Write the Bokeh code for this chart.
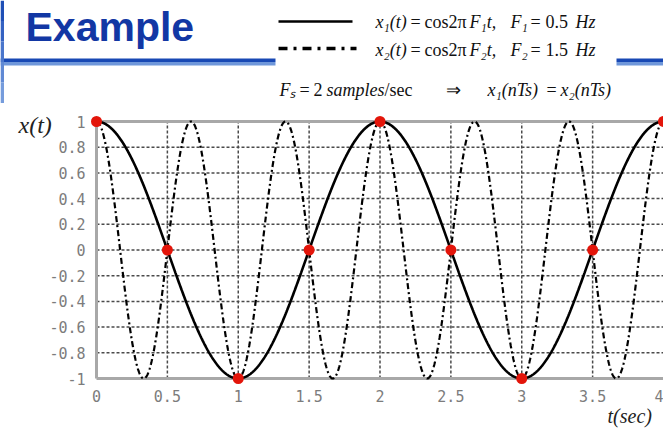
import numpy as np
from bokeh.plotting import figure
from bokeh.models import Range1d, FixedTicker, LinearAxis
from bokeh.core.properties import value
from bokeh.embed import file_html
from bokeh.resources import INLINE

# ---- data -------------------------------------------------------------
F1 = 0.5          # Hz, x1(t) = cos(2*pi*F1*t)
F2 = 1.5          # Hz, x2(t) = cos(2*pi*F2*t)
FS = 2.0          # samples / sec
t_samples = [0, 0.5, 1, 1.5, 2, 2.5, 3, 3.5, 4]
x_samples = [1, 0, -1, 0, 1, 0, -1, 0, 1]

x_ticks = [0, 0.5, 1, 1.5, 2, 2.5, 3, 3.5, 4]
x_tick_labels = ["0", "0.5", "1", "1.5", "2", "2.5", "3", "3.5", "4"]
y_ticks = [-1, -0.8, -0.6, -0.4, -0.2, 0, 0.2, 0.4, 0.6, 0.8, 1]
y_tick_labels = ["-1", "-0.8", "-0.6", "-0.4", "-0.2", "0",
                 "0.2", "0.4", "0.6", "0.8", "1"]

t = np.linspace(x_ticks[0], x_ticks[-1], 1601)
x1 = np.cos(2 * np.pi * F1 * t)
x2 = np.cos(2 * np.pi * F2 * t)

# ---- canvas / scales ----------------------------------------------------
W, H = 663, 430
T0_PX, T_SCALE = 96, 141.75      # pixel of t=0, pixels per second
Y1_PX, Y_SCALE = 121, 128.5      # pixel of x=1, pixels per unit

x_range = Range1d(-T0_PX / T_SCALE, (W - T0_PX) / T_SCALE)
y_bottom_px = Y1_PX + 2 * Y_SCALE
y_range = Range1d(-1 - (H - y_bottom_px) / Y_SCALE, 1 + Y1_PX / Y_SCALE)

p = figure(width=W, height=H, x_range=x_range, y_range=y_range,
           output_backend="svg", toolbar_location=None,
           x_axis_type=None, y_axis_type=None, min_border=0,
           outline_line_color=None, background_fill_color="white")
p.xgrid.visible = False
p.ygrid.visible = False

# pixel coordinate system for slide decorations and text
p.extra_x_ranges = {"px": Range1d(0, W)}
p.extra_y_ranges = {"px": Range1d(H, 0)}
PX = dict(x_range_name="px", y_range_name="px")

# ---- slide header ---------------------------------------------------------
p.quad(left=[0], right=[W], top=[58], bottom=[61.5], fill_color="#1848b4",
       line_color=None, **PX)
p.quad(left=[0], right=[W], top=[61.5], bottom=[65], fill_color="#6f97da",
       line_color=None, **PX)
blues = ["#1f4fb6", "#3462c2", "#4a76cc", "#6089d4", "#769cdc"]
for i, c in enumerate(blues):
    p.quad(left=[0], right=[3.5], top=[i * 20.5], bottom=[(i + 1) * 20.5],
           fill_color=c, line_color=None, **PX)
p.quad(left=[275], right=[616], top=[0], bottom=[104], fill_color="white",
       line_color=None, **PX)

p.text(x=[25], y=[26], text=["Example"], text_font=value("Liberation Sans"),
       text_font_style="bold", text_font_size="41px", text_color="#1237a4",
       text_baseline="middle", **PX)

# legend samples
p.line(x=[278, 352], y=[21, 21], line_color="black", line_width=2.5, **PX)
p.line(x=[278, 356], y=[48, 48], line_color="black", line_width=3.5,
       line_dash="9 6 3 6", **PX)

SERIF = value("Liberation Serif")


def formula(y, parts, size="18px"):
    for x, s, style in parts:
        p.text(x=[x], y=[y], text=[s], text_font=SERIF, text_font_style=style,
               text_font_size=size, text_color="#111111",
               text_baseline="middle", **PX)


formula(21, [(375, "x\u2081(t)", "italic"), (410, "=", "normal"),
             (424, "cos2\u03c0", "normal"), (469, "F\u2081t,", "italic"),
             (510, "F\u2081", "italic"), (530, "=", "normal"),
             (545, "0.5", "normal"), (575, "Hz", "italic")])
formula(49, [(375, "x\u2082(t)", "italic"), (410, "=", "normal"),
             (424, "cos2\u03c0", "normal"), (469, "F\u2082t,", "italic"),
             (510, "F\u2082", "italic"), (530, "=", "normal"),
             (545, "1.5", "normal"), (575, "Hz", "italic")])
formula(89, [(279, "F\u209b", "italic"), (299, "=", "normal"),
             (313, "2", "normal"), (326, "samples", "italic"),
             (384, "/sec", "normal"),
             (445, "\u21d2", "normal"), (487, "x\u2081(nTs)", "italic"),
             (546, "=", "normal"), (560, "x\u2082(nTs)", "italic")])

# axis titles
p.text(x=[18], y=[124], text=["x(t)"], text_font=SERIF, text_font_style="italic",
       text_font_size="24px", text_color="#222222", text_baseline="middle", **PX)
p.text(x=[607], y=[415], text=["t(sec)"], text_font=SERIF,
       text_font_style="italic", text_font_size="20px", text_color="#222222",
       text_baseline="middle", **PX)

# ---- plot grid & frame ------------------------------------------------------
t_lo, t_hi = x_ticks[0], x_ticks[-1]
v_lo, v_hi = y_ticks[0], y_ticks[-1]
grid_style = dict(line_color="#4a4a4a", line_width=1.5, line_dash="3 2")
p.segment(x0=x_ticks[1:-1], y0=[v_lo] * (len(x_ticks) - 2),
          x1=x_ticks[1:-1], y1=[v_hi] * (len(x_ticks) - 2), **grid_style)
p.segment(x0=[t_lo] * (len(y_ticks) - 2), y0=y_ticks[1:-1],
          x1=[t_hi] * (len(y_ticks) - 2), y1=y_ticks[1:-1], **grid_style)
p.segment(x0=[t_lo], y0=[v_hi], x1=[t_hi], y1=[v_hi], line_color="#a8a8a8",
          line_width=3)

axis_style = dict(axis_line_color="#a8a8a8", axis_line_width=3,
                  major_tick_line_color=None, minor_tick_line_color=None,
                  major_label_text_font="DejaVu Sans Mono",
                  major_label_text_font_size="15px",
                  major_label_text_color="#7c7c7c")

xaxis = LinearAxis(ticker=FixedTicker(ticks=x_ticks), fixed_location=v_lo,
                   bounds=(t_lo, t_hi), major_label_standoff=5,
                   major_label_overrides=dict(zip(x_ticks, x_tick_labels)),
                   **axis_style)
yaxis = LinearAxis(ticker=FixedTicker(ticks=y_ticks), fixed_location=t_lo,
                   bounds=(v_lo, v_hi), major_label_standoff=5,
                   major_label_overrides=dict(zip(y_ticks, y_tick_labels)),
                   **axis_style)
p.add_layout(xaxis, "below")
p.add_layout(yaxis, "left")

# ---- signals ------------------------------------------------------------------
r2 = p.line(t, x2, line_color="black", line_width=2.2, line_dash="6 3 2 3")
r1 = p.line(t, x1, line_color="black", line_width=2.6)
rs = p.scatter(t_samples, x_samples, size=11, fill_color="#e3150a",
               line_color=None)
for r in (r2, r1, rs):
    r.level = "overlay"

open("out.html", "w").write(file_html(p, INLINE))
